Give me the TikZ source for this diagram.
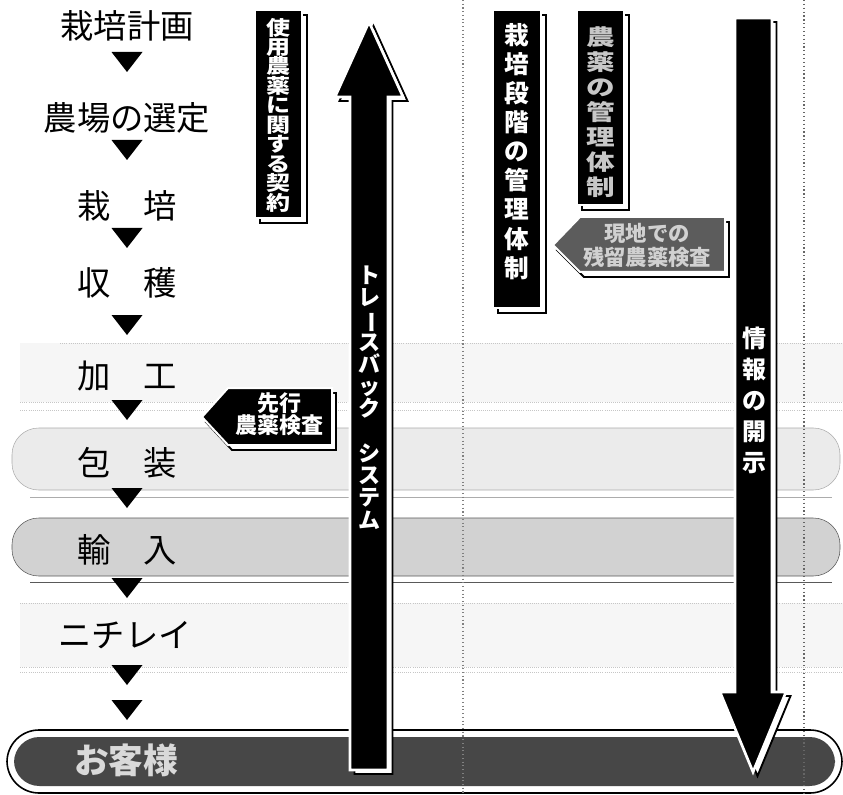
\documentclass[tikz,border=0pt]{standalone}
\usepackage{graphicx}
\usepackage{fontspec}
\newfontfamily\jp{Noto Sans CJK JP}
\newfontfamily\jpwa[FakeStretch=1.2]{Noto Sans CJK JP}
\newfontfamily\jpwb[FakeStretch=1.3]{Noto Sans CJK JP}
\newcommand\vchoon{\rotatebox[origin=c]{-90}{ー}}
\begin{document}
\begin{tikzpicture}[x=0.75pt,y=-0.75pt]
\tikzset{
  lbl/.style={font=\jp\fontsize{25}{25}\selectfont, inner sep=0pt, anchor=center},
  vtxt/.style={align=center, inner sep=0pt, text=white},
  shadowline/.style={draw=black, line width=1.4, fill=white},
  blackbody/.style={fill=black, draw=white, line width=2},
  faintline/.style={gray!45, densely dotted, line width=0.6},
}
\useasboundingbox (0,0) rectangle (843,795);
\fill[white] (0,0) rectangle (843,795);

% faint bands
\fill[gray!7] (20,343) rectangle (843,402);
\draw[faintline] (60,343) -- (843,343);
\draw[faintline] (20,402) -- (843,402) (20,410) -- (843,410);
\fill[gray!7] (20,603) rectangle (843,667);
\draw[faintline] (20,603) -- (843,603);
\draw[faintline] (20,667) -- (843,667) (20,672) -- (843,672);

% packaging band
\draw[fill=gray!16, draw=gray!65, rounded corners=20] (12,428) rectangle (840,490);
\draw[gray!65] (30,497) -- (832,497);
% import band
\draw[fill=gray!35, draw=black!65, rounded corners=20] (12,518) rectangle (840,576);
\draw[black!65] (30,582) -- (832,582);
% customer band
\draw[black, line width=1.2, rounded corners=24] (7,730) rectangle (842,793);
\fill[black!72, rounded corners=19] (14,737) rectangle (835,786);

% dotted guide lines
\draw[gray, dotted, line width=0.8] (463,0) -- (463,795);
\draw[gray!80!black, dotted, line width=0.9] (804,0) -- (804,795);

% up arrow
\path[shadowline, shift={(4.5,4)}] (350,770) -- (350,97) -- (335,97) -- (369,22) -- (403,97) -- (388,97) -- (388,770) -- cycle;
\path[blackbody] (350,770) -- (350,97) -- (335,97) -- (369,22) -- (403,97) -- (388,97) -- (388,770) -- cycle;
% down arrow
\path[shadowline, shift={(4.5,4)}] (735,18) -- (772,18) -- (772,692) -- (786,692) -- (753,772) -- (720,692) -- (735,692) -- cycle;
\path[blackbody] (735,18) -- (772,18) -- (772,692) -- (786,692) -- (753,772) -- (720,692) -- (735,692) -- cycle;

% label boxes
\path[shadowline, shift={(5,5)}] (255,10) rectangle (302,218);
\path[blackbody, line width=1.5] (255,10) rectangle (302,218);
\path[shadowline, shift={(5,5)}] (493,10) rectangle (541,308);
\path[blackbody, line width=1.5] (493,10) rectangle (541,308);
\path[shadowline, shift={(5,5)}] (577,10) rectangle (624,205);
\path[blackbody, line width=1.5] (577,10) rectangle (624,205);

% pentagon labels
\path[shadowline, shift={(4,5)}] (553,245) -- (580,217) -- (725,217) -- (725,272) -- (580,272) -- cycle;
\path[fill=black!64, draw=white, line width=1.5] (553,245) -- (580,217) -- (725,217) -- (725,272) -- (580,272) -- cycle;
\path[shadowline, shift={(4,5)}] (202,417) -- (228,388) -- (332,388) -- (332,445) -- (228,445) -- cycle;
\path[blackbody, line width=1.5] (202,417) -- (228,388) -- (332,388) -- (332,445) -- (228,445) -- cycle;

% small down triangles
\foreach \ty in {52,140,228,315,400,488,578,665,700}
  \fill (111.5,\ty) -- (142.5,\ty) -- (127,\ty+20) -- cycle;

% left step labels
\node[lbl] (s1) at (127,26) {栽培計画};
\node[lbl] (s2) at (127,118) {農場の選定};
\node[lbl] (s3) at (127,206) {栽　培};
\node[lbl] (s4) at (127,283) {収　穫};
\node[lbl] (s5) at (127,376) {加　工};
\node[lbl] (s6) at (127,463) {包　装};
\node[lbl] (s7) at (127,550) {輸　入};
\node[lbl] (s8) at (125,635) {ニチレイ};
\node[lbl, font=\jp\bfseries\fontsize{26}{26}\selectfont, text=white!85!black] (s9) at (126,760) {お客様};

% vertical texts
\node[vtxt, font={\jpwa\bfseries\fontsize{15}{14.6}\selectfont\lineskiplimit=-100pt}] (t1) at (278.5,115)
  {使\\用\\農\\薬\\に\\関\\す\\る\\契\\約};
\node[vtxt, font={\jp\bfseries\fontsize{18.5}{21.8}\selectfont\lineskiplimit=-100pt}] (t2) at (517,151.5)
  {栽\\培\\段\\階\\の\\管\\理\\体\\制};
\node[vtxt, text=white!78!black, font={\jpwb\bfseries\fontsize{16.5}{18.75}\selectfont\lineskiplimit=-100pt}] (t3) at (601,112)
  {農\\薬\\の\\管\\理\\体\\制};
\node[vtxt, font={\jp\bfseries\fontsize{16.5}{16.7}\selectfont\lineskiplimit=-100pt}] (t4) at (369,397.5)
  {ト\\レ\\\vchoon\\ス\\バ\\ッ\\ク\\\mbox{}\\シ\\ス\\テ\\ム};
\node[vtxt, font={\jp\bfseries\fontsize{18}{23.25}\selectfont\lineskiplimit=-100pt}] (t5) at (754,400)
  {情\\報\\の\\開\\示};
\node[vtxt, font={\jp\bfseries\fontsize{16.5}{16.5}\selectfont\lineskiplimit=-100pt}] (t6) at (279,414)
  {先行\\農薬検査};
\node[vtxt, text=white!82!black, font={\jp\bfseries\fontsize{16}{18}\selectfont\lineskiplimit=-100pt}] (t7) at (647,245)
  {現地での\\残留農薬検査};
\end{tikzpicture}
\end{document}
